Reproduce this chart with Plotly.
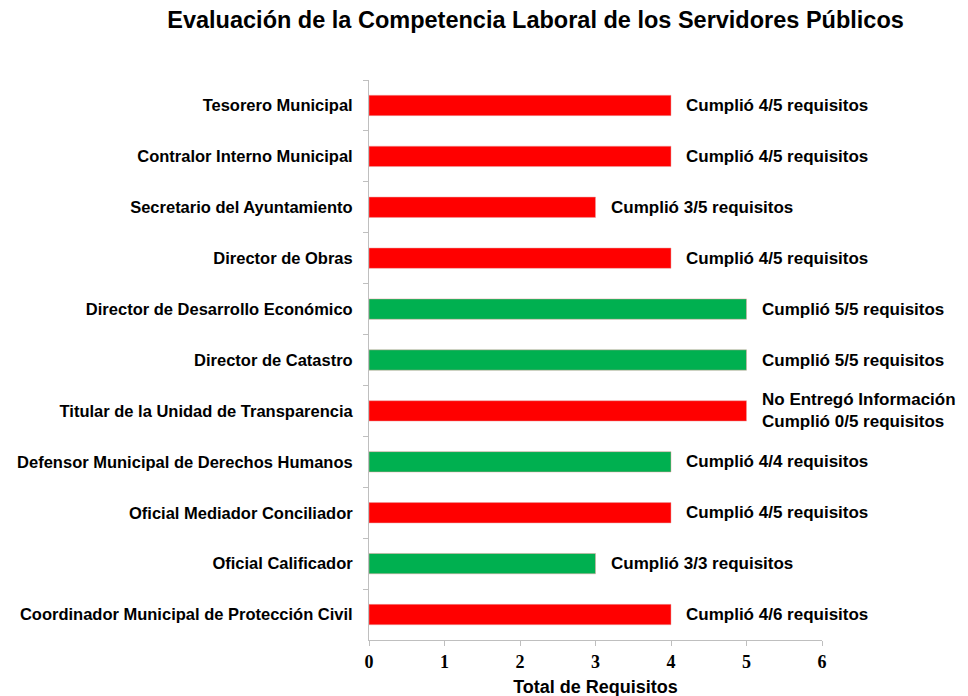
import plotly.graph_objects as go

puestos = [
    "Tesorero Municipal",
    "Contralor Interno Municipal",
    "Secretario del Ayuntamiento",
    "Director de Obras",
    "Director de Desarrollo Económico",
    "Director de Catastro",
    "Titular de la Unidad de Transparencia",
    "Defensor Municipal de Derechos Humanos",
    "Oficial Mediador Conciliador",
    "Oficial Calificador",
    "Coordinador Municipal de Protección Civil",
]
requisitos = [4, 4, 3, 4, 5, 5, 5, 4, 4, 3, 4]
cumple = [False, False, False, False, True, True, False, True, False, True, False]
etiquetas = [
    "Cumplió 4/5 requisitos",
    "Cumplió 4/5 requisitos",
    "Cumplió 3/5 requisitos",
    "Cumplió 4/5 requisitos",
    "Cumplió 5/5 requisitos",
    "Cumplió 5/5 requisitos",
    "No Entregó Información<br>Cumplió 0/5 requisitos",
    "Cumplió 4/4 requisitos",
    "Cumplió 4/5 requisitos",
    "Cumplió 3/3 requisitos",
    "Cumplió 4/6 requisitos",
]

colores = ["#00B050" if c else "#FF0000" for c in cumple]

fig = go.Figure()
fig.add_trace(go.Bar(
    x=requisitos, y=puestos, orientation="h",
    marker=dict(color=colores, line=dict(color="#E8A0A0", width=0.5)),
    width=0.4, showlegend=False, hoverinfo="x+y",
))

for p, v, t in zip(puestos, requisitos, etiquetas):
    fig.add_annotation(
        x=v, y=p, text="<b>" + t + "</b>", showarrow=False,
        xanchor="left", xshift=13, align="left",
        font=dict(family="Liberation Sans, Arial", size=17, color="black"),
    )

# page body adds an 8px offset, so margins are shifted to compensate
fig.update_layout(
    width=968, height=696,
    margin=dict(l=361, r=154, t=72, b=64),
    plot_bgcolor="white", paper_bgcolor="white",
    title=dict(
        text="<b>Evaluación de la Competencia Laboral de los Servidores Públicos</b>",
        x=0.545, xanchor="center", y=0.983, yanchor="middle",
        font=dict(family="Liberation Sans, Arial", size=23.5, color="black"),
    ),
    xaxis=dict(
        range=[0, 6], dtick=1, showgrid=False, zeroline=False, automargin=False,
        showline=True, linecolor="#BFBFBF", linewidth=1,
        ticks="outside", ticklen=5, tickcolor="#BFBFBF",
        tickfont=dict(family="Liberation Serif, Times New Roman", size=18, color="black", weight="bold"),
        title=dict(text="<b>Total de Requisitos</b>", standoff=9,
                   font=dict(family="Liberation Sans, Arial", size=18, color="black")),
    ),
    yaxis=dict(
        autorange="reversed", showgrid=False, zeroline=False, automargin=False,
        showline=True, linecolor="#BFBFBF", linewidth=1,
        ticks="outside", ticklen=5, tickcolor="#BFBFBF", tickson="boundaries",
        ticklabelstandoff=12,
        tickfont=dict(family="Liberation Sans, Arial", size=16.5, color="black", weight="bold"),
    ),
)

fig.write_html("out.html")
